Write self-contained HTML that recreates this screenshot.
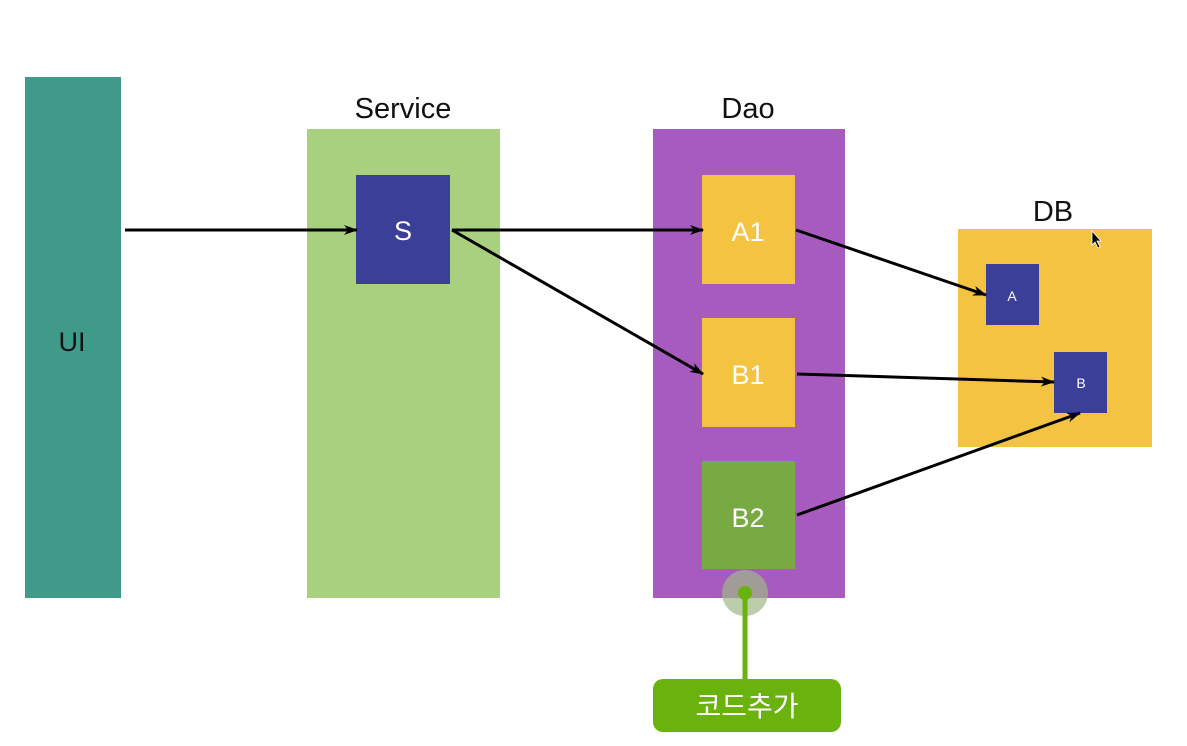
<!DOCTYPE html>
<html><head><meta charset="utf-8"><style>
html,body{margin:0;padding:0;background:#fff;}
svg{display:block;font-family:"Liberation Sans","Noto Sans CJK KR",sans-serif;}
</style></head><body>
<svg width="1187" height="746" viewBox="0 0 1187 746" xmlns="http://www.w3.org/2000/svg">
<defs>
<marker id="ah" markerWidth="14" markerHeight="10" refX="13" refY="5" orient="auto" markerUnits="userSpaceOnUse">
<path d="M0,0 L14,5 L0,10 L4,5 Z" fill="#000"/>
</marker>
</defs>
<rect x="0" y="0" width="1187" height="746" fill="#fff"/>
<rect x="25" y="77" width="96" height="521" fill="#3f9a8a"/>
<text x="72" y="351" font-size="27" fill="#111" text-anchor="middle">UI</text>

<text x="403" y="118" font-size="29" fill="#111" text-anchor="middle">Service</text>
<rect x="307" y="129" width="193" height="469" fill="#a9d07e"/>
<rect x="356" y="175" width="94" height="109" fill="#3b3f98"/>
<text x="403" y="240" font-size="27" fill="#fff" text-anchor="middle">S</text>

<text x="748" y="118" font-size="29" fill="#111" text-anchor="middle">Dao</text>
<rect x="653" y="129" width="192" height="469" fill="#a75bbe"/>
<rect x="702" y="175" width="93" height="109" fill="#f5c342"/>
<text x="748" y="241" font-size="27" fill="#fff" text-anchor="middle">A1</text>
<rect x="702" y="318" width="93" height="109" fill="#f5c342"/>
<text x="748" y="384" font-size="27" fill="#fff" text-anchor="middle">B1</text>
<rect x="702" y="461" width="93" height="108" fill="#78a943"/>
<text x="748" y="527" font-size="27" fill="#fff" text-anchor="middle">B2</text>

<text x="1053" y="221" font-size="29" fill="#111" text-anchor="middle">DB</text>
<rect x="958" y="229" width="194" height="218" fill="#f5c342"/>
<rect x="986" y="264" width="53" height="61" fill="#3b3f98"/>
<text x="1012" y="301" font-size="14" fill="#fff" text-anchor="middle">A</text>
<rect x="1054" y="352" width="53" height="61" fill="#3b3f98"/>
<text x="1081" y="388" font-size="14" fill="#fff" text-anchor="middle">B</text>
<path d="M1092,231 L1092,245 L1095,242 L1098,248 L1100,247 L1097,241 L1101,241 Z" fill="#000" stroke="#fff" stroke-width="0.8"/>

<g stroke="#000" stroke-width="3" fill="none" marker-end="url(#ah)">
<line x1="125" y1="230" x2="357" y2="230"/>
<line x1="452" y1="230" x2="703" y2="230"/>
<line x1="452" y1="230" x2="703" y2="374"/>
<line x1="796" y1="230" x2="986" y2="295"/>
<line x1="797" y1="374" x2="1054" y2="382"/>
<line x1="797" y1="515" x2="1080" y2="413"/>
</g>

<circle cx="745" cy="593" r="23" fill="#9fb888" opacity="0.7"/>
<line x1="745" y1="593" x2="745" y2="682" stroke="#6ab20e" stroke-width="5"/>
<circle cx="745" cy="593" r="7" fill="#6ab20e"/>
<rect x="653" y="679" width="188" height="53" rx="10" fill="#6ab20e"/>
<text x="747" y="716" font-size="28" fill="#fff" text-anchor="middle">코드추가</text>
</svg>
</body></html>
